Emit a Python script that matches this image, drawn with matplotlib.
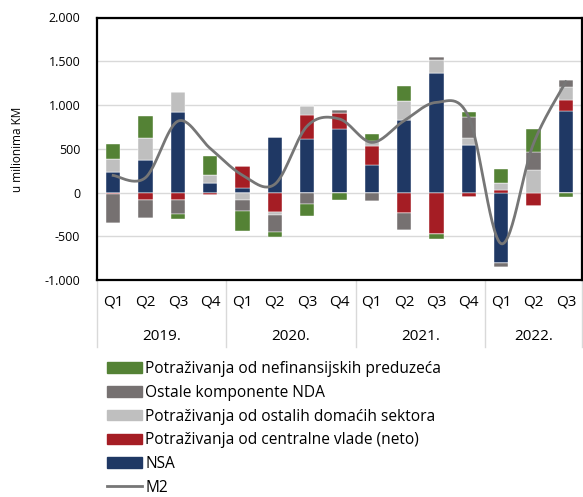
import numpy as np
import matplotlib
matplotlib.use('Agg')
import matplotlib.pyplot as plt
from matplotlib.patches import Patch
from matplotlib.lines import Line2D

plt.rcParams['font.family'] = ['Open Sans', 'DejaVu Sans']

# data (mil. KM)
quarters = ['Q1', 'Q2', 'Q3', 'Q4'] * 3 + ['Q1', 'Q2', 'Q3']
years = ['2019.', '2020.', '2021.', '2022.']
nsa = [237, 366, 916, 107, 57, 630, 611, 725, 313, 824, 1370, 546, -805, 0, 931]
vlada = [-19, -88, -88, -27, 248, -221, 279, 179, 218, -229, -473, -57, 27, -156, 122]
ostali_sektori = [145, 260, 233, 95, -84, -38, 99, 0, 61, 225, 149, 80, 76, 252, 153]
ostale_nda = [-328, -206, -160, 0, -130, -198, -134, 34, -99, -195, 31, 237, -50, 210, 84]
nefin = [168, 248, -50, 214, -229, -50, -134, -84, 73, 168, -57, 53, 164, 267, -57]
m2 = [195, 170, 815, 505, 198, 95, 760, 840, 573, 821, 1030, 860, -585, 560, 1265]

series = [
    (nsa, '#1f3864', 'NSA'),
    (vlada, '#a51d24', 'Potraživanja od centralne vlade (neto)'),
    (ostali_sektori, '#bfbfbf', 'Potraživanja od ostalih domaćih sektora'),
    (ostale_nda, '#767171', 'Ostale komponente NDA'),
    (nefin, '#548235', 'Potraživanja od nefinansijskih preduzeća'),
]

fig = plt.figure(figsize=(5.83, 4.97), dpi=100)
ax = fig.add_axes([97 / 583, 1 - 280 / 497, 485 / 583, 262.5 / 497])

x = np.arange(len(quarters))
pos_bottom = np.zeros(len(x))
neg_bottom = np.zeros(len(x))
for vals, color, label in series:
    v = np.array(vals, dtype=float)
    p = np.where(v > 0, v, 0)
    n = np.where(v < 0, v, 0)
    ax.bar(x, p, 0.45, bottom=pos_bottom, color=color, edgecolor='white', linewidth=0.3, zorder=2)
    ax.bar(x, n, 0.45, bottom=neg_bottom, color=color, edgecolor='white', linewidth=0.3, zorder=2)
    pos_bottom += p
    neg_bottom += n

# smoothed line like excel
y = np.array(m2, dtype=float)
px = np.concatenate([[x[0]], x, [x[-1]]]).astype(float)
py = np.concatenate([[y[0]], y, [y[-1]]])
cx, cy = [], []
t = np.linspace(0, 1, 30)
for i in range(len(x) - 1):
    p0 = np.array([px[i + 1], py[i + 1]])
    p3 = np.array([px[i + 2], py[i + 2]])
    c1 = p0 + (np.array([px[i + 2], py[i + 2]]) - np.array([px[i], py[i]])) / 6
    c2 = p3 - (np.array([px[i + 3], py[i + 3]]) - p0) / 6
    b = ((1 - t) ** 3)[:, None] * p0 + (3 * (1 - t) ** 2 * t)[:, None] * c1 \
        + (3 * (1 - t) * t ** 2)[:, None] * c2 + (t ** 3)[:, None] * p3
    cx.extend(b[:, 0])
    cy.extend(b[:, 1])
ax.plot(cx, cy, color='#767676', linewidth=2, zorder=3)

ax.set_ylim(-1000, 2000)
ax.set_xlim(-0.5, len(x) - 0.5)
ax.set_yticks(np.arange(-1000, 2001, 500))
ax.set_yticklabels([f'{v:,}'.replace(',', '.') for v in range(-1000, 2001, 500)], fontsize=9)
ax.tick_params(axis='y', length=0, pad=12)
ax.set_xticks([])
ax.grid(axis='y', color='#d9d9d9', linewidth=1, zorder=0)
ax.set_axisbelow(True)
for s in ax.spines.values():
    s.set_linewidth(1.6)
    s.set_color('black')

for i, q in enumerate(quarters):
    ax.text(i, -0.084, q, transform=ax.get_xaxis_transform(), ha='center', va='center', fontsize=11)
for j, yr in enumerate(years):
    mid = (j * 4 + min(j * 4 + 3, len(x) - 1)) / 2
    ax.text(mid, -0.217, yr, transform=ax.get_xaxis_transform(), ha='center', va='center', fontsize=11)
for b in [-0.5, 3.5, 7.5, 11.5, 14.5]:
    ax.plot([b, b], [0, -0.255], transform=ax.get_xaxis_transform(), color='#d9d9d9',
            linewidth=1, clip_on=False)

fig.text(18 / 583, 1 - 149 / 497, 'u milionima KM', rotation=90, ha='center', va='center', fontsize=8.5)

handles = [Patch(color=c) for _, c, _ in series[::-1]] + [Line2D([], [], color='#767676', linewidth=2)]
labels = [l for _, _, l in series[::-1]] + ['M2']
fig.legend(handles, labels, loc='upper left', bbox_to_anchor=(107 / 583, 1 - 361 / 497), frameon=False,
           fontsize=11.2, handlelength=2.25, handleheight=0.68, handletextpad=0.2, labelspacing=0.5,
           borderaxespad=0, borderpad=0)

fig.savefig('out.png', dpi=100)
